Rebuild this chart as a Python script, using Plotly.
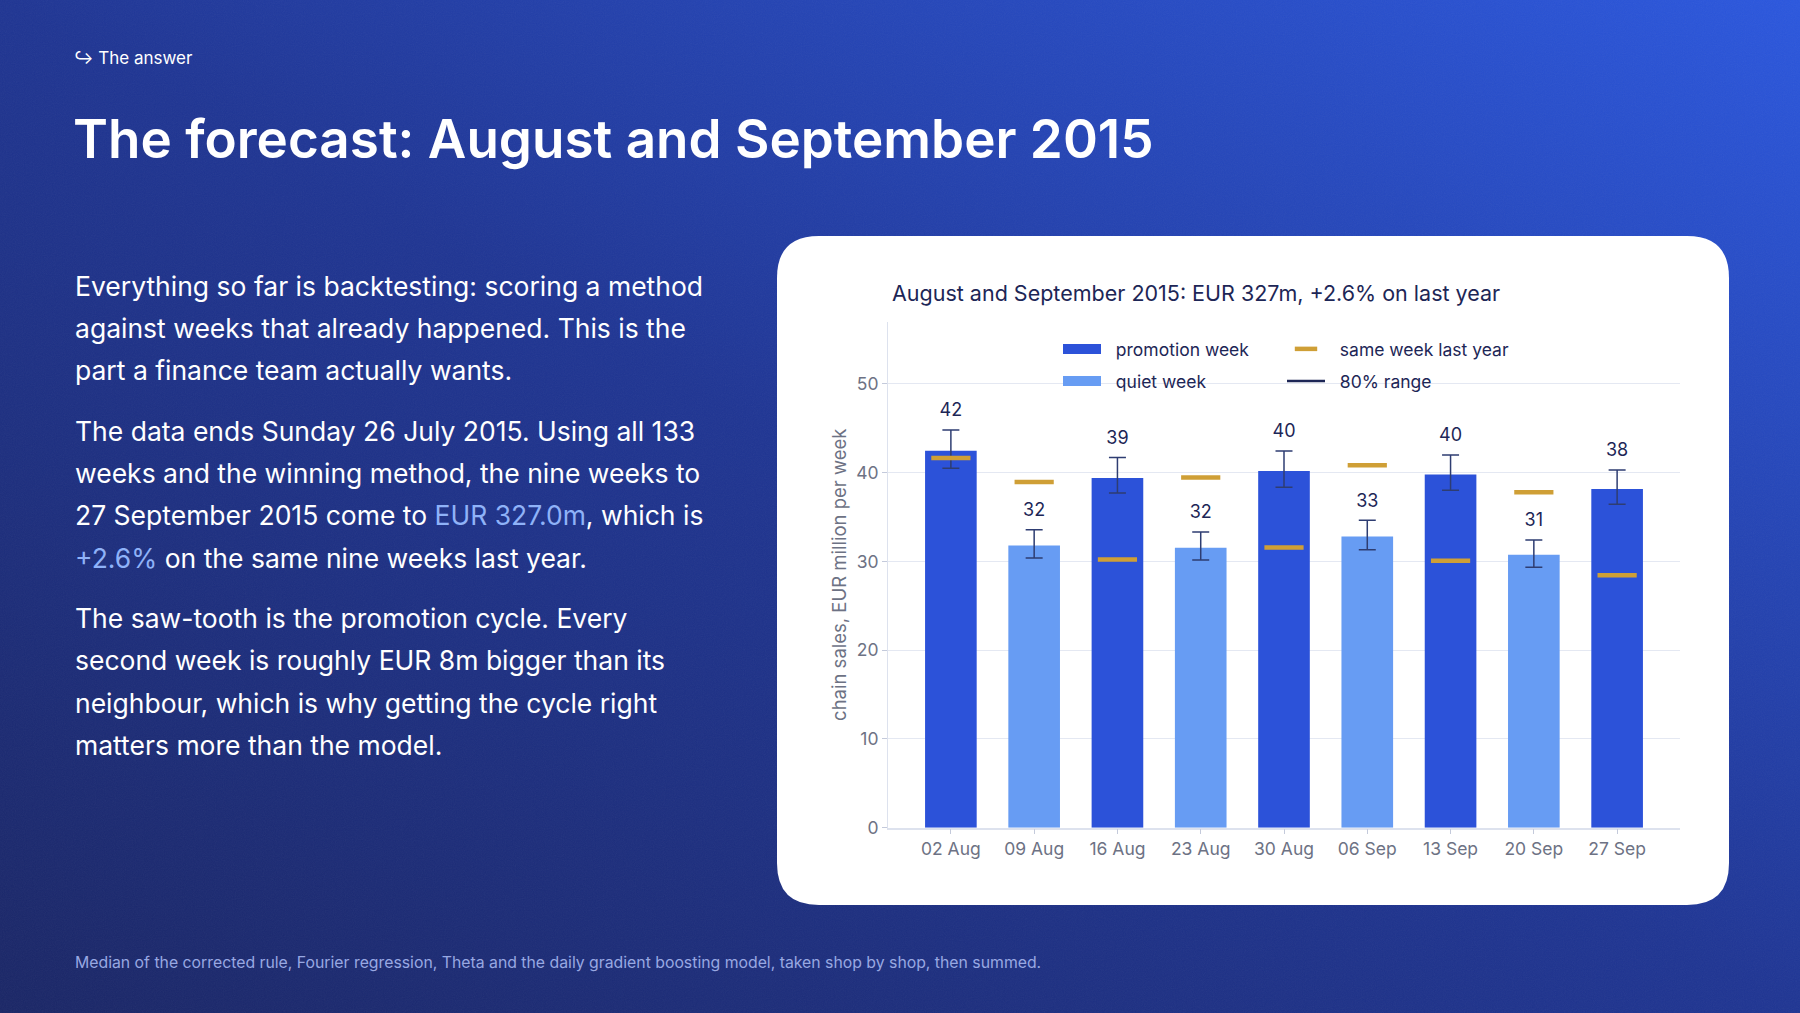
import base64

import plotly.graph_objects as go

# forecast for the nine weeks after the data ends (EUR million)
weeks = ["02 Aug", "09 Aug", "16 Aug", "23 Aug", "30 Aug", "06 Sep", "13 Sep", "20 Sep", "27 Sep"]
promo = [True, False, True, False, True, False, True, False, True]
forecast = [42.47, 31.80, 39.40, 31.54, 40.19, 32.80, 39.80, 30.75, 38.16]
range_lo = [40.50, 30.37, 37.70, 30.15, 38.35, 31.30, 38.00, 29.33, 36.44]
range_hi = [44.80, 33.56, 41.70, 33.30, 42.43, 34.64, 41.99, 32.40, 40.30]
last_year = [41.65, 38.95, 30.20, 39.44, 31.57, 40.82, 30.07, 37.80, 28.43]

W, H = 1800, 1013
PROMO_COL = "#2c52d9"
QUIET_COL = "#679cf3"
GOLD = "#cf9f36"
NAVY = "#1d2656"
GREY = "#6d7284"
FONT = "Inter"
SP = "\u00a0\u00a0"  # a bit more room between legend symbol and text

para_lines = [
    ["Everything so far is backtesting: scoring a method",
     "against weeks that already happened. This is the",
     "part a finance team actually wants."],
    ["The data ends Sunday 26 July 2015. Using all 133",
     "weeks and the winning method, the nine weeks to",
     "27 September 2015 come to <span style='color:#8fb2f8'>EUR 327.0m</span>, which is",
     "<span style='color:#8fb2f8'>+2.6%</span> on the same nine weeks last year."],
    ["The saw-tooth is the promotion cycle. Every",
     "second week is roughly EUR 8m bigger than its",
     "neighbour, which is why getting the cycle right",
     "matters more than the model."],
]
para_y = [[286, 328, 370], [431, 473, 515, 558], [618, 660, 703, 745]]


def px(x):
    return x / W


def py(y):
    return 1 - y / H


# background gradient, as an svg data uri
svg = (
    '<svg xmlns="http://www.w3.org/2000/svg" width="1800" height="1013">'
    '<defs><linearGradient id="g" x1="0" y1="1" x2="1" y2="0">'
    '<stop offset="0" stop-color="#1a2666"/>'
    '<stop offset="0.5" stop-color="#1f3593"/>'
    '<stop offset="1" stop-color="#2b57de"/>'
    '</linearGradient>'
    '<filter id="n"><feTurbulence type="fractalNoise" baseFrequency="0.9" numOctaves="2" stitchTiles="stitch"/>'
    '<feColorMatrix type="saturate" values="0"/></filter></defs>'
    '<rect width="1800" height="1013" fill="url(#g)"/>'
    '<rect width="1800" height="1013" filter="url(#n)" opacity="0.06"/>'
    '</svg>'
)
bg_src = "data:image/svg+xml;base64," + base64.b64encode(svg.encode()).decode()

fig = go.Figure()

fig.add_trace(go.Bar(
    x=weeks, y=forecast,
    marker=dict(color=[PROMO_COL if p else QUIET_COL for p in promo], line=dict(width=0)),
    width=0.62,
    error_y=dict(
        type="data", symmetric=False,
        array=[h - v for h, v in zip(range_hi, forecast)],
        arrayminus=[v - l for l, v in zip(range_lo, forecast)],
        color="#2e3d72", thickness=1.5, width=8.5,
    ),
    showlegend=False, hoverinfo="skip",
))

fig.add_trace(go.Scatter(
    x=weeks, y=last_year, mode="markers",
    marker=dict(symbol="line-ew", size=28, color=GOLD, line=dict(color=GOLD, width=4.5)),
    showlegend=False, hoverinfo="skip",
))

# value labels sit above the top of the 80% range; the invisible marker pushes them up
fig.add_trace(go.Scatter(
    x=weeks, y=range_hi, mode="markers+text",
    marker=dict(size=13, color="rgba(0,0,0,0)"),
    text=[f"{v:.0f}" for v in forecast],
    textposition="top center",
    textfont=dict(family=FONT, size=18, color=NAVY),
    showlegend=False, hoverinfo="skip",
))

# legend entries
fig.add_trace(go.Scatter(x=[None], y=[None], mode="lines", name=SP + "promotion week",
                         line=dict(color=PROMO_COL, width=13), legend="legend"))
fig.add_trace(go.Scatter(x=[None], y=[None], mode="lines", name=SP + "quiet week",
                         line=dict(color=QUIET_COL, width=13), legend="legend2"))
fig.add_trace(go.Scatter(x=[None], y=[None], mode="markers", name=SP + "same week last year",
                         marker=dict(symbol="line-ew", size=21, color=GOLD,
                                     line=dict(color=GOLD, width=4.5)), legend="legend3"))
fig.add_trace(go.Scatter(x=[None], y=[None], mode="lines", name=SP + "80% range",
                         line=dict(color=NAVY, width=2.5), legend="legend4"))

leg = dict(font=dict(family=FONT, size=17.5, color=NAVY), bgcolor="rgba(0,0,0,0)",
           xanchor="left", yanchor="middle", itemwidth=38, borderwidth=0)
fig.update_layout(
    legend=dict(leg, x=px(1058), y=py(349)),
    legend2=dict(leg, x=px(1058), y=py(381)),
    legend3=dict(leg, x=px(1282), y=py(349)),
    legend4=dict(leg, x=px(1282), y=py(381)),
)

# white card behind the chart
x0, x1, y0, y1, r = 777, 1729, 236, 905, 42
card = (
    f"M {px(x0 + r)},{py(y0)} L {px(x1 - r)},{py(y0)} Q {px(x1)},{py(y0)} {px(x1)},{py(y0 + r)} "
    f"L {px(x1)},{py(y1 - r)} Q {px(x1)},{py(y1)} {px(x1 - r)},{py(y1)} "
    f"L {px(x0 + r)},{py(y1)} Q {px(x0)},{py(y1)} {px(x0)},{py(y1 - r)} "
    f"L {px(x0)},{py(y0 + r)} Q {px(x0)},{py(y0)} {px(x0 + r)},{py(y0)} Z"
)
fig.add_shape(type="path", path=card, xref="paper", yref="paper",
              fillcolor="white", line=dict(width=0), layer="below")

ann = []
ann.append(dict(text="↪ The answer", x=px(72), y=py(58), font=dict(size=17, color="white")))
ann.append(dict(text="The forecast: August and September 2015", x=px(71), y=py(139),
                font=dict(size=53, color="white", weight=600)))
for lines, ys in zip(para_lines, para_y):
    for t, y in zip(lines, ys):
        ann.append(dict(text=t, x=px(73), y=py(y), font=dict(size=26.5, color="white")))
ann.append(dict(
    text="Median of the corrected rule, Fourier regression, Theta and the daily gradient boosting model, "
         "taken shop by shop, then summed.",
    x=px(73), y=py(962), font=dict(size=15.8, color="#98a8e2")))
ann.append(dict(text="August and September 2015: EUR 327m, +2.6% on last year", x=px(890), y=py(293),
                font=dict(size=21.5, color=NAVY)))
for a in ann:
    a.update(xref="paper", yref="paper", xanchor="left", yanchor="middle", showarrow=False, align="left")
    a["font"].setdefault("family", FONT)

fig.update_layout(
    width=W, height=H, autosize=False,
    margin=dict(l=0, r=0, t=0, b=0, pad=0, autoexpand=False),
    paper_bgcolor="#1a2666",
    plot_bgcolor="rgba(0,0,0,0)",
    font=dict(family=FONT, color=GREY),
    annotations=ann,
    images=[dict(source=bg_src, xref="paper", yref="paper", x=0, y=1, sizex=1, sizey=1,
                 xanchor="left", yanchor="top", sizing="stretch", layer="below")],
    xaxis=dict(
        domain=[px(888), px(1680)], range=[-0.755, 8.755], automargin=False,
        showline=True, linecolor="#dde2ee", linewidth=1.5,
        ticks="outside", ticklen=5, tickcolor="#c4cadb",
        tickfont=dict(family=FONT, size=17.5, color=GREY),
        showgrid=False, zeroline=False,
    ),
    yaxis=dict(
        domain=[py(827.7), py(321.7)], range=[0, 57], automargin=False,
        tickvals=[0, 10, 20, 30, 40, 50],
        showline=True, linecolor="#dde2ee", linewidth=1,
        ticks="outside", ticklen=5, tickcolor="#c4cadb",
        tickfont=dict(family=FONT, size=17.5, color=GREY),
        gridcolor="#e4e8f2", gridwidth=1, zeroline=False,
        title=dict(text="chain sales, EUR million per week", standoff=4,
                   font=dict(family=FONT, size=18.5, color=GREY)),
    ),
)

fig.write_html(
    "out.html",
    config={"responsive": False, "displayModeBar": False},
    post_script="document.body.style.margin='0';document.body.style.overflow='hidden';",
)
